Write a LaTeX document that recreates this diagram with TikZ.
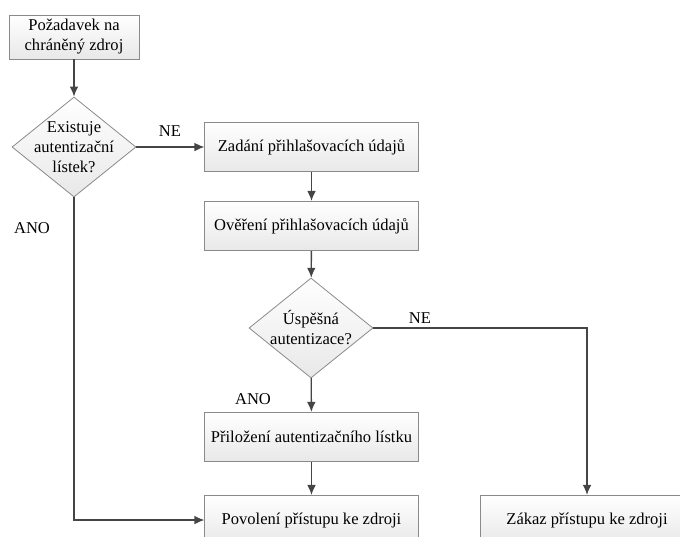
\documentclass[tikz,border=0pt]{standalone}
\usepackage{fontspec}
\setmainfont{Liberation Serif}
\newfontfamily\flowfont{Liberation Serif}
\usetikzlibrary{shapes.geometric,arrows.meta}
\definecolor{edgegray}{HTML}{8A8A8A}
\definecolor{linegray}{HTML}{454545}
\tikzset{
  flowtext/.style={font=\flowfont\fontsize{12.4pt}{15pt}\selectfont},
  stepbox/.style={rectangle, draw=edgegray, line width=0.6pt,
    top color=white, bottom color=black!9,
    minimum width=160pt, minimum height=37pt, inner sep=2pt,
    flowtext, align=center},
  decide/.style={diamond, draw=edgegray, line width=0.6pt,
    top color=white, bottom color=black!9, aspect=1.24,
    minimum width=93pt, minimum height=75pt, inner sep=-12pt,
    flowtext, align=center},
  flow/.style={draw=linegray, line width=1pt,
    -{Latex[length=7.5pt,width=6.5pt]}},
  lbl/.style={flowtext, inner sep=0pt}
}
\begin{document}
\begin{tikzpicture}[x=0.75pt, y=-0.75pt]
  \useasboundingbox (0,0) rectangle (680,536);
  \clip (0,0) rectangle (680,536);

  % process steps and decisions
  \node[stepbox, minimum width=97.5pt, minimum height=33pt] (req) at (74,37)
    {Požadavek na\\chráněný zdroj};
  \node[decide] (ticket) at (74,147) {Existuje\\autentizační\\lístek?};
  \node[stepbox] (enter) at (311.5,147) {Zadání přihlašovacích údajů};
  \node[stepbox] (verify) at (311.5,226) {Ověření přihlašovacích údajů};
  \node[decide] (auth) at (311,328) {Úspěšná\\autentizace?};
  \node[stepbox] (attach) at (311.5,437) {Přiložení autentizačního lístku};
  \node[stepbox] (allow) at (311.5,520) {Povolení přístupu ke zdroji};
  \node[stepbox] (deny) at (587,520) {Zákaz přístupu ke zdroji};

  % connectors
  \draw[flow] (req) -- (ticket);
  \draw[flow] (ticket.east) -- (enter.west);
  \draw[flow] (ticket.south) |- (allow.west);
  \draw[flow] (enter) -- (verify);
  \draw[flow] (verify) -- (auth);
  \draw[flow] (auth.east) -| (deny.north);
  \draw[flow] (auth) -- (attach);
  \draw[flow] (attach) -- (allow);

  % branch labels
  \node[lbl] (ne1) at (170,131) {NE};
  \node[lbl] (ano1) at (32,228) {ANO};
  \node[lbl] (ne2) at (420,318) {NE};
  \node[lbl] (ano2) at (253,399) {ANO};
\end{tikzpicture}
\end{document}
